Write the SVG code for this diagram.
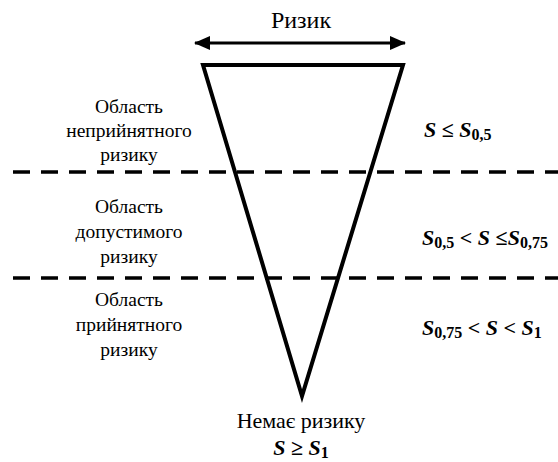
<svg xmlns="http://www.w3.org/2000/svg" width="558" height="462" viewBox="0 0 558 462">
<defs>
<style>
text{font-family:'Liberation Serif','Times New Roman',serif;fill:#000}
.lbl{font-size:19.5px;text-anchor:middle}
.f{font-size:22px;font-weight:bold}
.i{font-style:italic}
.sub{font-size:16px}
.dash{stroke:#000;stroke-width:3.5;stroke-dasharray:17 11;fill:none}
</style>
<marker id="ah" viewBox="0 0 16 14" refX="15" refY="7" markerWidth="16" markerHeight="14" markerUnits="userSpaceOnUse" orient="auto-start-reverse">
<path d="M0,0 L16,7 L0,14 Z" fill="#000"/>
</marker>
</defs>
<rect width="558" height="462" fill="#fff"/>
<g id="connectors">
<line x1="195" y1="43" x2="405" y2="43" stroke="#000" stroke-width="3" marker-start="url(#ah)" marker-end="url(#ah)"/>
<line class="dash" x1="13" y1="172" x2="558" y2="172"/>
<line class="dash" x1="13" y1="278" x2="558" y2="278"/>
</g>
<g id="title"><text x="301" y="28" font-size="24" text-anchor="middle">Ризик</text></g>
<g id="triangle"><polygon points="203,65 403,65 302,396" fill="none" stroke="#000" stroke-width="4" stroke-linejoin="miter"/></g>
<g id="zone1">
<text class="lbl" x="129" y="113">Область</text>
<text class="lbl" x="129" y="137">неприйнятного</text>
<text class="lbl" x="129" y="161">ризику</text>
</g>
<g id="zone2">
<text class="lbl" x="129" y="213">Область</text>
<text class="lbl" x="129" y="238">допустимого</text>
<text class="lbl" x="129" y="263">ризику</text>
</g>
<g id="zone3">
<text class="lbl" x="129" y="306">Область</text>
<text class="lbl" x="129" y="331">прийнятного</text>
<text class="lbl" x="129" y="356">ризику</text>
</g>
<g id="cond1"><text class="f" x="424" y="137"><tspan class="i">S</tspan> ≤ <tspan class="i">S</tspan><tspan class="sub" dy="3">0,5</tspan></text></g>
<g id="cond2"><text class="f" x="422" y="245"><tspan class="i">S</tspan><tspan class="sub" dy="3">0,5</tspan><tspan dy="-3"> &lt; </tspan><tspan class="i">S</tspan> ≤<tspan class="i">S</tspan><tspan class="sub" dy="3">0,75</tspan></text></g>
<g id="cond3"><text class="f" x="422" y="335"><tspan class="i">S</tspan><tspan class="sub" dy="3">0,75</tspan><tspan dy="-3"> &lt; </tspan><tspan class="i">S</tspan> &lt; <tspan class="i">S</tspan><tspan class="sub" dy="3">1</tspan></text></g>
<g id="none">
<text x="301" y="428" font-size="22" text-anchor="middle">Немає ризику</text>
<text class="f" x="301" y="455" text-anchor="middle"><tspan class="i">S</tspan> ≥ <tspan class="i">S</tspan><tspan class="sub" dy="3">1</tspan></text>
</g>
</svg>
